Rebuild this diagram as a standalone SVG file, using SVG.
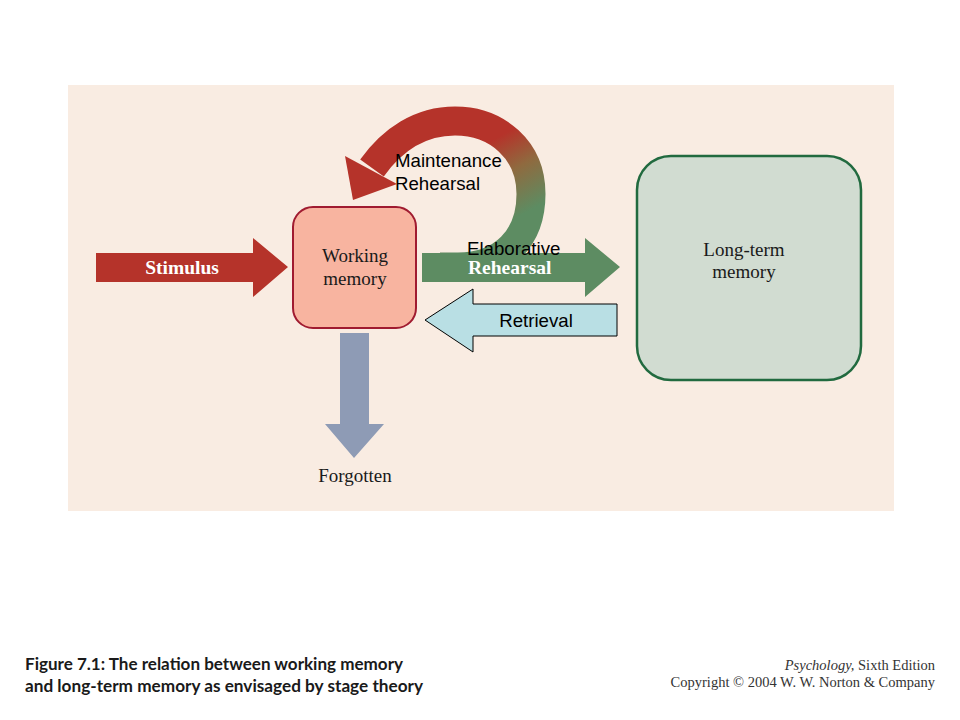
<svg xmlns="http://www.w3.org/2000/svg" width="960" height="720" viewBox="0 0 960 720">
  <defs>
    <linearGradient id="loopGrad" gradientUnits="userSpaceOnUse" x1="502" y1="135" x2="540" y2="205">
      <stop offset="0" stop-color="#b5332a"/>
      <stop offset="0.45" stop-color="#8f6a3f"/>
      <stop offset="1" stop-color="#5d8c62"/>
    </linearGradient>
    <style>
      .sans { font-family: "Liberation Sans", Arial, sans-serif; font-size: 18.67px; fill: #000; }
      .serif { font-family: "Liberation Serif", "Times New Roman", serif; font-size: 19px; fill: #1a1a1a; }
      .wbold { font-family: "Liberation Serif", "Times New Roman", serif; font-size: 19.5px; font-weight: bold; fill: #ffffff; }
      .cap { font-family: Lato, "Open Sans", sans-serif; font-size: 17px; font-weight: bold; fill: #1a1a1a; }
      .copy { font-family: "Liberation Serif", "Times New Roman", serif; font-size: 14.5px; fill: #333; }
    </style>
  </defs>

  <rect x="0" y="0" width="960" height="720" fill="#ffffff"/>
  <rect x="68" y="85" width="826" height="426" fill="#f9ece2"/>

  <g id="connectors">
    <g id="stimulus-arrow">
      <polygon points="96,253 253,253 253,238 288,267 253,297 253,282 96,282" fill="#b5332a"/>
      <text class="wbold" x="182" y="274" text-anchor="middle">Stimulus</text>
    </g>
    <g id="maintenance-loop">
      <path d="M440,267 L458,267 C503,267 531,238 531,194 C531,150 497,121 455,121 C420,121 392,140 372,168" fill="none" stroke="url(#loopGrad)" stroke-width="29"/>
      <polygon points="345,156 353,200 397,184" fill="#b5332a"/>
    </g>
    <g id="elaborative-arrow">
      <polygon points="422,253 585,253 585,238 620,267 585,297 585,282 422,282" fill="#5d8c62"/>
      <text class="wbold" x="468" y="274">Rehearsal</text>
    </g>
    <g id="retrieval-arrow">
      <polygon points="617,304 473,304 473,289 425,320 473,352 473,336 617,336" fill="#b9dfe4" stroke="#000" stroke-width="1"/>
      <text class="sans" x="536" y="327" text-anchor="middle">Retrieval</text>
    </g>
    <g id="forgotten-arrow">
      <polygon points="340,333 369,333 369,424 384,424 354,458 325,424 340,424" fill="#8e9bb5"/>
    </g>
  </g>

  <g id="labels">
    <text class="sans" x="395" y="167">Maintenance</text>
    <text class="sans" x="395" y="190">Rehearsal</text>
    <text class="sans" x="467" y="255">Elaborative</text>
  </g>

  <g id="working-memory">
    <rect x="293" y="207" width="123" height="121" rx="20" ry="20" fill="#f8b4a0" stroke="#a01b30" stroke-width="2"/>
    <text class="serif" x="355" y="262" text-anchor="middle">Working</text>
    <text class="serif" x="355" y="285" text-anchor="middle">memory</text>
  </g>

  <g id="long-term-memory">
    <rect x="637" y="156" width="224" height="224" rx="34" ry="34" fill="#d1dcd1" stroke="#216a3f" stroke-width="2.5"/>
    <text class="serif" x="744" y="256" text-anchor="middle">Long-term</text>
    <text class="serif" x="744" y="278" text-anchor="middle">memory</text>
  </g>

  <g id="forgotten">
    <text class="serif" x="355" y="482" text-anchor="middle">Forgotten</text>
  </g>

  <g id="caption">
    <text class="cap" x="25" y="670" textLength="378" lengthAdjust="spacingAndGlyphs">Figure 7.1: The relation between working memory</text>
    <text class="cap" x="25" y="692" textLength="398" lengthAdjust="spacingAndGlyphs">and long-term memory as envisaged by stage theory</text>
    <text class="copy" x="935" y="670" text-anchor="end"><tspan font-style="italic">Psychology,</tspan> Sixth Edition</text>
    <text class="copy" x="935" y="687" text-anchor="end">Copyright © 2004 W. W. Norton &amp; Company</text>
  </g>
</svg>
